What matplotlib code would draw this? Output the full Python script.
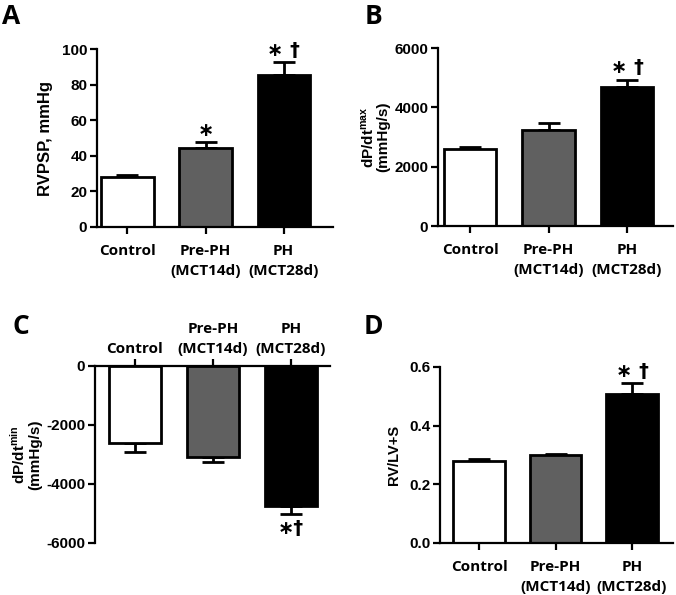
import numpy as np
import matplotlib.pyplot as plt

# Group names and colours
groups = ['Control', 'Pre-PH\n(MCT14d)', 'PH\n(MCT28d)']
colors = ['white', '#606060', 'black']

# Panel data (mean, SEM)
rvpsp = [28, 44.5, 85.5]
rvpsp_err = [1.0, 3.0, 7.0]
dpmax = [2600, 3250, 4680]
dpmax_err = [60, 230, 260]
dpmin = [-2620, -3090, -4740]
dpmin_err = [300, 150, 280]
rvlv = [0.28, 0.30, 0.507]
rvlv_err = [0.005, 0.005, 0.037]

# Significance marks
sig_a = ['', '∗', '∗ †']
sig_b = ['', '', '∗ †']
sig_c = ['', '', '∗†']
sig_d = ['', '', '∗ †']

fig = plt.figure(figsize=(6.76, 5.95), dpi=100)
LBL = dict(family='Liberation Sans', weight='bold')
CAT = dict(family='Open Sans', weight='bold')


def panel(rect, vals, errs, sig, ylim, yticks, ylabel, letter, letter_xy, xlim, neg=False,
          ylabfs=10.5, ylabpad=4, fmt='%g'):
    ax = fig.add_axes(rect)
    x = np.arange(len(vals))
    ax.bar(x, vals, width=0.67, color=colors, edgecolor='black', linewidth=2, zorder=2)
    ax.errorbar(x, vals, yerr=[[0, 0, 0], errs] if not neg else [errs, [0, 0, 0]],
                fmt='none', ecolor='black', elinewidth=2, capsize=8, capthick=2, zorder=1)
    ax.set_xlim(xlim)
    ax.set_ylim(ylim)
    ax.set_yticks(yticks)
    ax.set_yticklabels([fmt % t for t in yticks], **LBL, fontsize=11)
    ax.set_xticks(x)
    ax.set_xticklabels(groups, **CAT, fontsize=11, linespacing=1.55)
    ax.spines['right'].set_visible(False)
    if neg:
        ax.spines['bottom'].set_visible(False)
        ax.spines['top'].set_linewidth(1.6)
        ax.xaxis.tick_top()
    else:
        ax.spines['top'].set_visible(False)
        ax.spines['bottom'].set_linewidth(1.6)
    ax.spines['left'].set_linewidth(1.6)
    ax.tick_params(axis='y', direction='out', length=5, width=1.6, pad=2)
    ax.tick_params(axis='x', direction='out', length=5, width=1.6, pad=2 if neg else 7)
    ax.set_ylabel(ylabel, **LBL, fontsize=ylabfs, labelpad=ylabpad, linespacing=1.0)
    rng = ylim[1] - ylim[0]
    for i in range(len(vals)):
        if sig[i]:
            if neg:
                ax.text(x[i], vals[i] - errs[i] - 0.03 * rng, sig[i], ha='center', va='top',
                        family='DejaVu Sans', weight='bold', fontsize=14)
            else:
                ax.text(x[i], vals[i] + errs[i] + 0.015 * rng, sig[i], ha='center', va='bottom',
                        family='DejaVu Sans', weight='bold', fontsize=14)
    fig.text(letter_xy[0] / 676, 1 - letter_xy[1] / 595, letter,
             family='Open Sans', weight='bold', fontsize=19, va='top')
    return ax


panel([0.1435, 0.6185, 0.349, 0.299], rvpsp, rvpsp_err, sig_a, (0, 100), [0, 20, 40, 60, 80, 100],
      'RVPSP, mmHg', 'A', (2, 3), (-0.39, 2.63), ylabfs=12, ylabpad=6)
panel([0.648, 0.620, 0.348, 0.299], dpmax, dpmax_err, sig_b, (0, 6000), [0, 2000, 4000, 6000],
      'dP/dt$^{\\mathregular{max}}$\n(mmHg/s)', 'B', (365, 3), (-0.41, 2.59), ylabfs=11, ylabpad=3)
panel([0.1405, 0.0874, 0.3475, 0.2975], dpmin, dpmin_err, sig_c, (-6000, 0), [0, -2000, -4000, -6000],
      'dP/dt$^{\\mathregular{min}}$\n(mmHg/s)', 'C', (13, 313), (-0.51, 2.5), neg=True, ylabfs=11, ylabpad=3)
panel([0.651, 0.0874, 0.345, 0.2958], rvlv, rvlv_err, sig_d, (0, 0.6), [0, 0.2, 0.4, 0.6],
      'RV/LV+S', 'D', (364, 313), (-0.51, 2.54), ylabfs=10.5, ylabpad=6, fmt='%.1f')

fig.savefig('out.png', dpi=100)
